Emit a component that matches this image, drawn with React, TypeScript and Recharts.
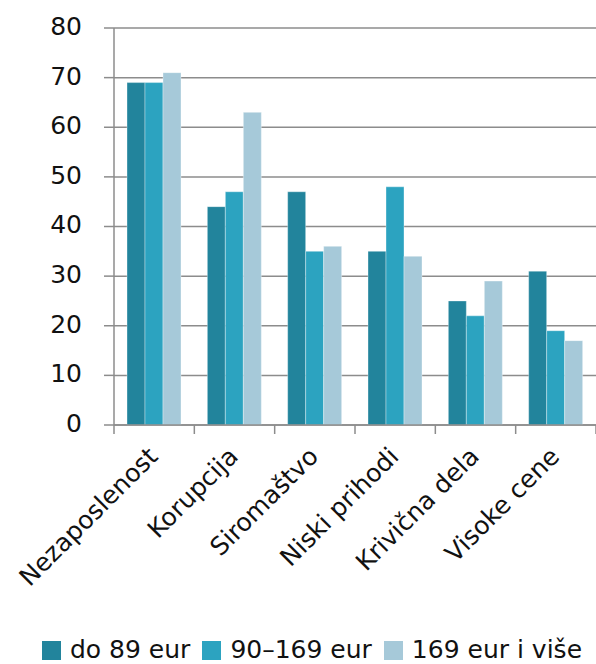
import React from 'react'
import {
  BarChart,
  Bar,
  XAxis,
  YAxis,
  CartesianGrid,
  Legend,
} from 'recharts'

const categories = [
  'Nezaposlenost',
  'Korupcija',
  'Siromaštvo',
  'Niski prihodi',
  'Krivična dela',
  'Visoke cene',
]
const upTo89 = [69, 44, 47, 35, 25, 31]
const from90to169 = [69, 47, 35, 48, 22, 19]
const over169 = [71, 63, 36, 34, 29, 17]
const yTicks = [0, 10, 20, 30, 40, 50, 60, 70, 80]

const seriesNames = ['do 89 eur', '90–169 eur', '169 eur i više']
const colors = ['#22849c', '#2ca3c0', '#a6c9d9']

const data = categories.map((name, i) => ({
  name,
  a: upTo89[i],
  b: from90to169[i],
  c: over169[i],
}))

const FONT = '"DejaVu Sans", sans-serif'
const GRID = '#8c8c8c'
const BAND = (596 - 114) / categories.length

function CategoryTick(props: any) {
  const { x, y, payload, index } = props
  const left = x - BAND / 2
  return (
    <g>
      <line x1={left} y1={y - 8} x2={left} y2={y + 1} stroke={GRID} strokeWidth={1.5} />
      {index === categories.length - 1 && (
        <line x1={x + BAND / 2} y1={y - 8} x2={x + BAND / 2} y2={y + 1} stroke={GRID} strokeWidth={1.5} />
      )}
      <text
        x={0}
        y={0}
        transform={`translate(${x + 5}, ${y + 25}) rotate(-45)`}
        textAnchor="end"
        fontSize={25}
        fontFamily={FONT}
        fill="#111"
      >
        {payload.value}
      </text>
    </g>
  )
}

function LegendContent() {
  return (
    <div
      style={{
        display: 'flex',
        justifyContent: 'flex-start',
        alignItems: 'flex-start',
        height: 50,
        paddingTop: 21,
        paddingLeft: 42,
        boxSizing: 'border-box',
        fontFamily: FONT,
        fontSize: 25,
        lineHeight: '29px',
        color: '#111',
        whiteSpace: 'nowrap',
      }}
    >
      {seriesNames.map((n, i) => (
        <div key={n} style={{ display: 'flex', alignItems: 'center', marginLeft: i === 0 ? 0 : 12 }}>
          <span style={{ width: 19, height: 19, background: colors[i], display: 'inline-block', marginRight: 9, marginTop: 2 }} />
          <span>{n}</span>
        </div>
      ))}
    </div>
  )
}

export default function App() {
  return (
    <div style={{ position: 'absolute', left: 0, top: 0, width: 596, height: 664, background: '#fff' }}>
      <BarChart
        width={596}
        height={664}
        data={data}
        margin={{ top: 28, right: 0, left: 0, bottom: 0 }}
        barCategoryGap={13}
        barGap={0}
      >
        <CartesianGrid vertical={false} stroke={GRID} strokeWidth={1.5} />
        <XAxis
          dataKey="name"
          height={189}
          interval={0}
          axisLine={{ stroke: GRID, strokeWidth: 1.5 }}
          tickLine={false}
          tick={<CategoryTick />}
        />
        <YAxis
          width={114}
          domain={[0, 80]}
          ticks={yTicks}
          interval={0}
          axisLine={{ stroke: GRID, strokeWidth: 1.5 }}
          tickLine={{ stroke: GRID, strokeWidth: 1.5 }}
          tickSize={10}
          tickMargin={22}
          tick={{ fontSize: 25, fontFamily: FONT, fill: '#111', dy: -2 }}
        />
        <Legend verticalAlign="bottom" height={50} content={<LegendContent />} />
        <Bar dataKey="a" name={seriesNames[0]} fill={colors[0]} stroke="#ffffff" strokeOpacity={0.35} strokeWidth={1} isAnimationActive={false} />
        <Bar dataKey="b" name={seriesNames[1]} fill={colors[1]} stroke="#ffffff" strokeOpacity={0.35} strokeWidth={1} isAnimationActive={false} />
        <Bar dataKey="c" name={seriesNames[2]} fill={colors[2]} stroke="#ffffff" strokeOpacity={0.35} strokeWidth={1} isAnimationActive={false} />
      </BarChart>
    </div>
  )
}
